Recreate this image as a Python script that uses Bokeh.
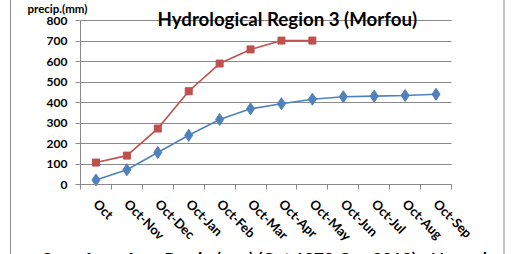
import math
from bokeh.plotting import figure
from bokeh.models import FixedTicker, Range1d, Label, Spacer, Row
from bokeh.embed import file_html
from bokeh.resources import INLINE

# ---- data ----
months = ["Oct", "Oct-Nov", "Oct-Dec", "Oct-Jan", "Oct-Feb", "Oct-Mar",
          "Oct-Apr", "Oct-May", "Oct-Jun", "Oct-Jul", "Oct-Aug", "Oct-Sep"]
normal_cum = [22, 72, 156, 240, 317, 369, 394, 416, 428, 431, 434, 440]
year_cum = [107, 141, 273, 455, 590, 659, 702, 702]
y_ticks = [0, 100, 200, 300, 400, 500, 600, 700, 800]
title_text = "Hydrological Region 3 (Morfou)"
y_label_text = "precip.(mm)"
bottom_text = "Cum. Aver. Ann. Precip (mm) (Oct 1979-Sep 2010) - Normal"

FONT = "Lato"
BLUE = "#4F81BD"
RED = "#C0504D"
GRID = "#8a8a8a"

# ---- geometry (pixels inside the figure canvas) ----
W, H = 492, 254
X0_PX, X1_PX = 69, 440      # canvas x of category axis start / end
Y0_PX, Y1_PX = 184, 20      # canvas y of value 0 / value 800
n = len(months)
ppx = (X1_PX - X0_PX) / n
ppy = (Y0_PX - Y1_PX) / 800.0

def dx(px):   # canvas px -> data x
    return (px - X0_PX) / ppx

def dy(py):   # canvas py -> data y
    return (Y0_PX - py) / ppy

xs_normal = [i + 0.5 for i in range(len(normal_cum))]
xs_year = [i + 0.5 for i in range(len(year_cum))]

p = figure(width=W, height=H, output_backend="svg", toolbar_location=None,
           x_range=Range1d(dx(0), dx(W)), y_range=Range1d(dy(H), dy(0)),
           min_border=0, min_border_left=0, min_border_right=0,
           min_border_top=0, min_border_bottom=0)
p.outline_line_color = None
p.background_fill_color = "white"
p.border_fill_color = "white"

p.line(xs_normal, normal_cum, color=BLUE, line_width=1.6)
p.scatter(xs_normal, normal_cum, marker="diamond", size=12, color=BLUE)
p.line(xs_year, year_cum, color=RED, line_width=1.6)
p.scatter(xs_year, year_cum, marker="square", size=7, color=RED)

# x axis (kept at value 0 inside the frame)
xa = p.xaxis[0]
xa.fixed_location = 0
xa.bounds = (0, n)
xa.ticker = FixedTicker(ticks=xs_normal, minor_ticks=list(range(n + 1)))
xa.major_label_overrides = {x: m for x, m in zip(xs_normal, months)}
xa.major_tick_out = 0
xa.major_tick_in = 0
xa.minor_tick_out = 5
xa.minor_tick_in = 0
xa.minor_tick_line_color = GRID
xa.axis_line_color = GRID
xa.major_label_orientation = -math.pi / 4
xa.major_label_text_font = FONT
xa.major_label_text_font_style = "bold"
xa.major_label_text_font_size = "13px"
xa.major_label_text_color = "black"
xa.major_label_standoff = 12

# y axis (kept at category start inside the frame)
ya = p.yaxis[0]
ya.fixed_location = 0
ya.bounds = (0, 800)
ya.ticker = FixedTicker(ticks=y_ticks)
ya.minor_tick_line_color = None
ya.major_tick_out = 5
ya.major_tick_in = 0
ya.major_tick_line_color = GRID
ya.axis_line_color = GRID
ya.major_label_text_font = FONT
ya.major_label_text_font_style = "bold"
ya.major_label_text_font_size = "12px"
ya.major_label_text_color = "black"
ya.major_label_standoff = 8

p.xgrid.grid_line_color = None
p.ygrid.grid_line_color = GRID
p.ygrid.ticker = FixedTicker(ticks=y_ticks)
p.ygrid.bounds = (0, 800)
p.ygrid.cross_bounds = (0, n)

p.add_layout(Label(x=dx(146), y=dy(18), text=title_text,
                   text_font=FONT, text_font_style="bold", text_font_size="18.7px",
                   text_align="left", text_baseline="alphabetic", text_color="black"))
p.add_layout(Label(x=dx(16), y=dy(1), text=y_label_text,
                   text_font=FONT, text_font_style="bold", text_font_size="11.5px",
                   text_align="left", text_baseline="top", text_color="black"))
p.add_layout(Label(x=dx(29), y=dy(247), text=bottom_text,
                   text_font=FONT, text_font_style="bold", text_font_size="17px",
                   text_align="left", text_baseline="top", text_color="black"))

pad = Spacer(width=10, height=H)
left_line = Spacer(width=1, height=H, styles={"background-color": "#8c8c8c"})
right_line = Spacer(width=2, height=H, styles={"background-color": "#c4c4c4"})
layout = Row(children=[pad, left_line, p, right_line], spacing=0)

open("out.html", "w").write(file_html(layout, INLINE))
